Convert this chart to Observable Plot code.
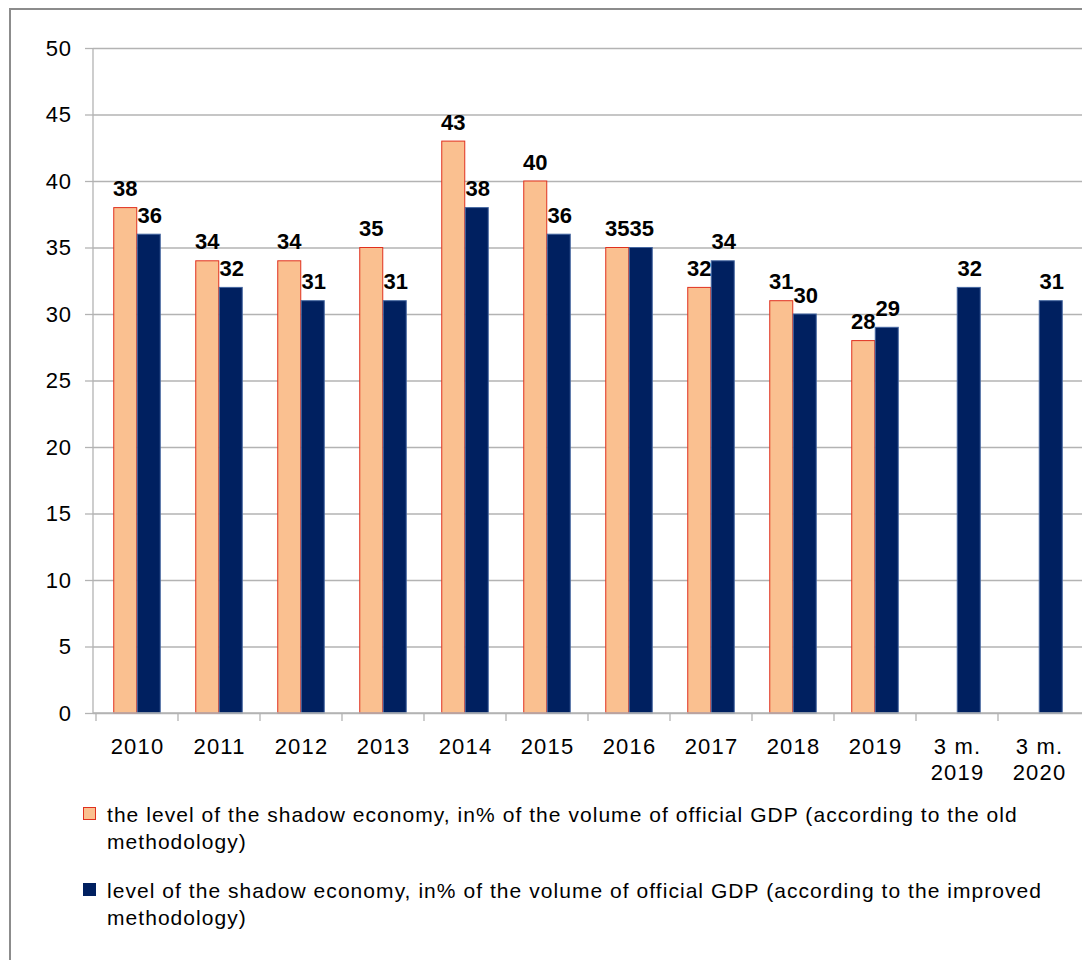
<!DOCTYPE html>
<html>
<head>
<meta charset="utf-8">
<script src="https://cdn.jsdelivr.net/npm/d3@7"></script>
<script src="https://cdn.jsdelivr.net/npm/@observablehq/plot@0.6"></script>
<style>
  html, body { margin: 0; padding: 0; background: #fff; }
  #wrap { position: relative; width: 1082px; height: 960px; overflow: hidden; font-family: "Liberation Sans", Arial, sans-serif; }
  #frame { position: absolute; left: 9px; top: 8px; width: 1100px; height: 1000px; border: 2px solid #8c8c8c; box-sizing: border-box; }
  #chart { position: absolute; left: 0; top: 0; }
  #chart svg g[aria-label="x-axis tick label"] text { letter-spacing: 1.2px; }
  #chart svg g[aria-label="y-axis tick label"] text { letter-spacing: 0.6px; }
  .legend { position: absolute; left: 83px; width: 995px; font-size: 21px; line-height: 27px; color: #000; letter-spacing: 1.05px; }
  .legend .sw { position: absolute; left: 0; top: 6px; width: 13px; height: 13px; box-sizing: border-box; }
  .legend .txt { margin-left: 24px; width: 960px; }
</style>
</head>
<body>
<div id="wrap">
  <div id="frame"></div>
  <div id="chart"></div>
  <div class="legend" id="leg1" style="top:801px;"><div class="sw" style="background:#FAC090;border:1px solid #E0301E;"></div><div class="txt"></div></div>
  <div class="legend" id="leg2" style="top:877px;"><div class="sw" style="background:#002060;border:1px solid #002060;"></div><div class="txt"></div></div>
</div>
<script>
const categories = ["2010","2011","2012","2013","2014","2015","2016","2017","2018","2019","3 m.\n2019","3 m.\n2020"];
const oldMethod = [38,34,34,35,43,40,35,32,31,28,null,null];
const newMethod = [36,32,31,31,38,36,35,34,30,29,32,31];
const seriesNames = [
  "the level of the shadow economy, in% of the volume of official GDP (according to the old methodology)",
  "level of the shadow economy, in% of the volume of official GDP (according to the improved methodology)"
];
const yTicks = [0,5,10,15,20,25,30,35,40,45,50];

const oldData = categories.map((c,i) => ({cat: c, value: oldMethod[i]})).filter(d => d.value != null);
const newData = categories.map((c,i) => ({cat: c, value: newMethod[i]})).filter(d => d.value != null);

const ORANGE = "#FAC090", RED = "#E0301E", NAVY = "#002060", NAVY_EDGE = "#4466a0", GRID = "#b3b3b3";
const half = 41.25, inset = 17.75;

const plot = Plot.plot({
  width: 1082,
  height: 790,
  marginTop: 48,
  marginBottom: 77,
  marginLeft: 93,
  marginRight: 0,
  style: {fontFamily: "'Liberation Sans', Arial, sans-serif", background: "transparent", overflow: "visible"},
  x: {domain: categories, range: [93, 1083], paddingInner: 0, paddingOuter: 0},
  y: {domain: [0, 50], ticks: yTicks},
  marks: [
    Plot.ruleY(yTicks, {stroke: GRID, strokeWidth: 1.3}),
    Plot.axisY({ticks: yTicks, tickSize: 8, tickPadding: 14, fontSize: 22, stroke: GRID, strokeWidth: 1.3, color: "#000", label: null}),
    Plot.axisX({tickSize: 0, tickPadding: 22, fontSize: 22, label: null, lineHeight: 1.18, textAnchor: "middle"}),
    Plot.barY(oldData, {x: "cat", y: "value", fill: ORANGE, stroke: RED, strokeWidth: 1, insetLeft: inset, insetRight: half}),
    Plot.barY(newData, {x: "cat", y: "value", fill: NAVY, stroke: NAVY_EDGE, strokeWidth: 1, insetLeft: half, insetRight: inset}),
    Plot.text(oldData, {x: "cat", y: "value", text: d => String(d.value), dx: -(half - inset) / 2 - 0.5, dy: -12, lineAnchor: "bottom", fontSize: 22, fontWeight: "bold", fill: "#000"}),
    Plot.text(newData, {x: "cat", y: "value", text: d => String(d.value), dx: (half - inset) / 2 + 0.5, dy: -12, lineAnchor: "bottom", fontSize: 22, fontWeight: "bold", fill: "#000"})
  ]
});
document.getElementById("chart").appendChild(plot);

// axis lines and boundary tick marks drawn from Plot's own scales
const xs = plot.scale("x"), ys = plot.scale("y");
const svg = d3.select(plot);
const y0 = ys.apply(0), yTop = ys.apply(50);
const g = svg.append("g").attr("stroke", GRID).attr("stroke-width", 1.3);
g.append("line").attr("x1", xs.range[0]).attr("x2", xs.range[1]).attr("y1", y0).attr("y2", y0);
g.append("line").attr("x1", xs.range[0]).attr("x2", xs.range[0]).attr("y1", yTop).attr("y2", y0);
categories.forEach(c => {
  const xb = xs.apply(c);
  g.append("line").attr("x1", xb).attr("x2", xb).attr("y1", y0).attr("y2", y0 + 8);
});

document.querySelector("#leg1 .txt").textContent = seriesNames[0];
document.querySelector("#leg2 .txt").textContent = seriesNames[1];
</script>
</body>
</html>
